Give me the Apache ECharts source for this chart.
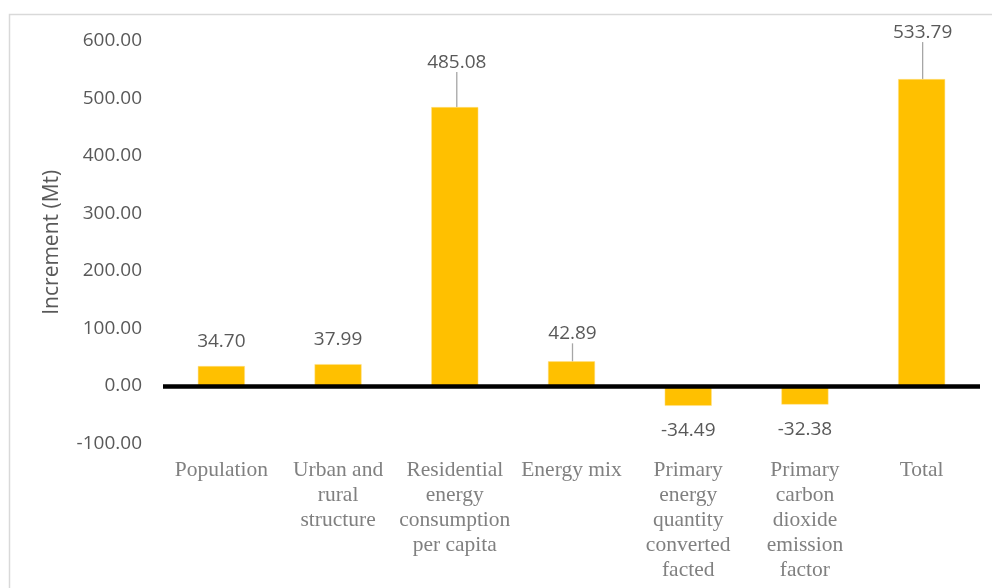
<!DOCTYPE html>
<html>
<head>
<meta charset="utf-8">
<script src="https://cdn.jsdelivr.net/npm/echarts@6/dist/echarts.min.js"></script>
<style>
html,body{margin:0;padding:0;background:#fff;}
#chart{width:992px;height:588px;}
</style>
</head>
<body>
<div id="chart"></div>
<script>
var categories = [
  "Population",
  "Urban and\nrural\nstructure",
  "Residential\nenergy\nconsumption\nper capita",
  "Energy mix",
  "Primary\nenergy\nquantity\nconverted\nfacted",
  "Primary\ncarbon\ndioxide\nemission\nfactor",
  "Total"
];
var increments = [34.70, 37.99, 485.08, 42.89, -34.49, -32.38, 533.79];
var yTicks = { min: -100, max: 600, interval: 100 };

var chart = echarts.init(document.getElementById('chart'), null, { renderer: 'canvas' });

var moved = { 2: { dx: 2, dy: -20 }, 3: { dx: 1, dy: -3 }, 6: { dx: 1, dy: -22 } };

var option = {
  backgroundColor: '#ffffff',
  animation: false,
  graphic: [{
    type: 'rect',
    shape: { x: 9.5, y: 14.5, width: 1000, height: 600 },
    style: { fill: 'none', stroke: '#d9d9d9', lineWidth: 1.5 },
    silent: true
  }],
  grid: { left: 163, right: 12, top: 41, bottom: 144.5 },
  xAxis: {
    type: 'category',
    data: categories,
    axisLine: { show: false },
    axisTick: { show: false },
    axisLabel: {
      interval: 0,
      margin: 14,
      fontFamily: 'Liberation Serif',
      fontSize: 21.5,
      lineHeight: 25,
      color: '#808080',
      align: 'center',
      verticalAlign: 'top'
    },
    splitLine: { show: false }
  },
  yAxis: {
    type: 'value',
    min: yTicks.min,
    max: yTicks.max,
    interval: yTicks.interval,
    name: 'Increment (Mt)',
    nameLocation: 'middle',
    nameGap: 100,
    nameTextStyle: { fontFamily: 'Open Sans', fontSize: 21, color: '#595959' },
    axisLine: { show: false },
    axisTick: { show: false },
    splitLine: { show: false },
    axisLabel: {
      margin: 21,
      fontFamily: 'Open Sans',
      fontSize: 19,
      color: '#595959',
      formatter: function (v) { return v.toFixed(2); }
    }
  },
  series: [{
    type: 'bar',
    barWidth: 47,
    itemStyle: { color: '#FFC000', borderColor: '#FFE08A', borderWidth: 0.5 },
    data: increments.map(function (v, i) {
      return {
        value: v,
        label: { position: v < 0 ? 'bottom' : 'top' },
        labelLine: { show: !!moved[i] }
      };
    }),
    label: {
      show: true,
      distance: 15,
      fontFamily: 'Open Sans',
      fontSize: 19,
      color: '#595959',
      formatter: function (p) { return p.value.toFixed(2); }
    },
    labelLine: { show: false, lineStyle: { color: '#a6a6a6', width: 1.3 } },
    labelLayout: function (p) {
      var m = moved[p.dataIndex];
      return m ? { dx: m.dx, dy: m.dy } : {};
    },
    markLine: {
      silent: true,
      symbol: 'none',
      label: { show: false },
      lineStyle: { color: '#000000', width: 4.5, type: 'solid' },
      data: [{ yAxis: 0 }]
    }
  }]
};
chart.setOption(option);
</script>
</body>
</html>
